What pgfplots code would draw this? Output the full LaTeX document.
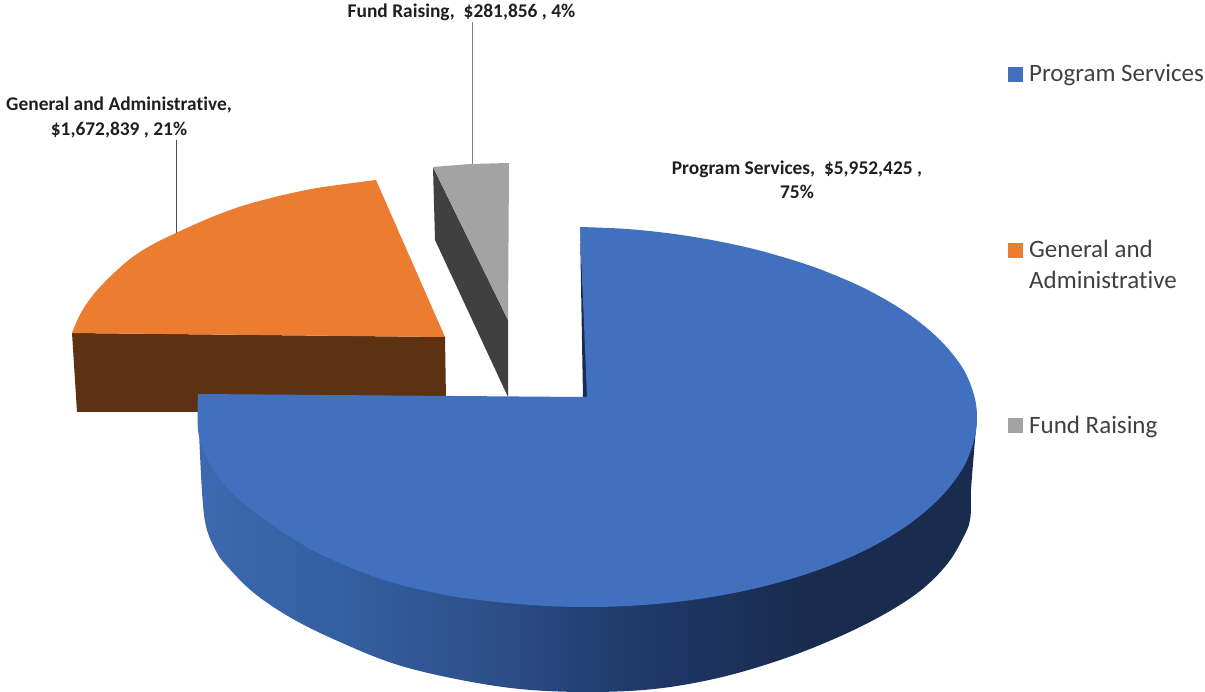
\documentclass[border=0pt]{standalone}
\usepackage{pgfplots}
\pgfplotsset{compat=1.18}
\usepackage{fontspec}
\setmainfont{Carlito}[Ligatures=NoCommon]
\definecolor{bluetop}{HTML}{4070BE}
\definecolor{orangetop}{HTML}{EB7C30}
\definecolor{brownside}{HTML}{5E3112}
\definecolor{graytop}{HTML}{A3A3A3}
\definecolor{grayside}{HTML}{404040}
\definecolor{gA}{HTML}{3C69B0}
\definecolor{gB}{HTML}{335E9F}
\definecolor{gC}{HTML}{2C4F88}
\definecolor{gD}{HTML}{223D6F}
\definecolor{gE}{HTML}{1D3360}
\definecolor{gF}{HTML}{192C50}
\pgfdeclarehorizontalshading{bluegrad}{100bp}{color(0bp)=(gA); color(25bp)=(gA); color(35bp)=(gB); color(44bp)=(gC); color(51bp)=(gD); color(57bp)=(gE); color(64bp)=(gF); color(75bp)=(gF); color(100bp)=(gF)}
\tikzset{
  lbl/.style={font=\fontsize{19.4}{22}\selectfont\bfseries, text=black!88, inner sep=0pt, anchor=base},
  leg/.style={font=\fontsize{25}{30}\selectfont, text=black!75, inner sep=0pt, anchor=base west},
}
\begin{document}
\begin{tikzpicture}
\begin{axis}[
  scale only axis, width=1205pt, height=692pt,
  xmin=0, xmax=1205, ymin=0, ymax=692, y dir=reverse,
  hide axis, clip=false,
]
% frame that fixes the picture's extent
\addplot[draw=none] coordinates {(0,0) (1205,692)};
% leader lines
\addplot[draw=black!70, line width=0.8pt] coordinates {(176,140) (176,233)};
\addplot[draw=black!50, line width=0.9pt] coordinates {(472,22) (472,164)};
% Fund raising slice
\addplot[draw=none, fill=grayside] coordinates {(433,167) (435,240) (508,397) (508,320)} -- cycle;
\addplot[draw=none, fill=graytop] coordinates {(433,167) (470,164) (509,163) (508,320)} -- cycle;
% General and administrative slice
\addplot[draw=none, fill=brownside] coordinates {(72,333) (77,412) (250,412) (446,400) (445,337)} -- cycle;
\addplot[draw=none, fill=orangetop, smooth, tension=0.6] coordinates {(72,333) (80,314.6) (90,299) (100,287) (115,272) (133,256.7) (154,243.7) (176,233) (196,223.8) (217,215) (242,206) (267,199) (292,193) (317,188) (345,184) (376,180)} -- (axis cs:445,337) -- cycle;
% Program services slice
\addplot[draw=none, shading=bluegrad, smooth, tension=0.6] coordinates {(198,405) (200,455) (203,505) (207,530) (216,551) (226,565) (254,593) (293,619) (340,642) (395,664) (456,679) (520,689) (587,692) (654,689) (718,678) (780,660) (834,639) (881,616) (920,591) (948,563) (965,534) (970,520) (971,505) (971,490) (975,440) (977,420)} -- cycle;
\addplot[draw=none, fill=gF] coordinates {(580,227) (583,398) (588,398)} -- cycle;
\addplot[draw=none, fill=bluetop, smooth, tension=0.6] coordinates {(580,227) (621,228.6) (654.7,231.6) (688,236) (720.4,241.7) (752,248.6) (782,256.8) (811,266) (837.7,276.3) (863,287.6) (885.8,299.8) (906.5,312.7) (924.7,326.3) (940.5,340.5) (953.5,355.2) (964,370.3) (971,385.7) (975.5,401.3) (977,417) (975.5,433.6) (971,450) (964,466.2) (953.5,482) (940.5,497.3) (924.7,512) (906.5,526) (885.8,539.1) (862.8,551.4) (837.7,562.5) (810.7,572.6) (782,581.5) (751.8,589.2) (720.4,595.5) (688,600.5) (654.7,604.1) (621,606.3) (587,607) (553,606.3) (519.3,604.1) (486,600.8) (453.6,596.5) (422,590) (392,582.5) (363.3,572.6) (336.3,561.5) (311.2,549.4) (288.2,535.5) (267.5,521.5) (249.3,508) (233.5,494.3) (220.5,480) (210.3,465) (203,450) (198.5,433.6) (197.5,417) (198,394)} -- (axis cs:583,397) -- (axis cs:587,397) -- cycle;
% legend swatches
\addplot[only marks, mark=square*, mark size=7pt, mark options={draw=bluetop, fill=bluetop}] coordinates {(1015,74)};
\addplot[only marks, mark=square*, mark size=7pt, mark options={draw=orangetop, fill=orangetop}] coordinates {(1015,250)};
\addplot[only marks, mark=square*, mark size=7pt, mark options={draw=graytop, fill=graytop}] coordinates {(1015,425)};
% legend text
\node[leg] at (axis cs:1029,82) {Program Services};
\node[leg] at (axis cs:1029,258) {General and};
\node[leg] at (axis cs:1029,289) {Administrative};
\node[leg] at (axis cs:1029,433) {Fund Raising};
% labels
\node[lbl] at (axis cs:461.5,17.5) {Fund Raising,\ \ \$281,856 , 4\%};
\node[lbl] at (axis cs:119,111) {General and Administrative,};
\node[lbl] at (axis cs:119,136) {\$1,672,839 , 21\%};
\node[lbl] at (axis cs:797,175) {Program Services,\ \ \$5,952,425 ,};
\node[lbl] at (axis cs:797,199) {75\%};
\end{axis}
\end{tikzpicture}
\end{document}
